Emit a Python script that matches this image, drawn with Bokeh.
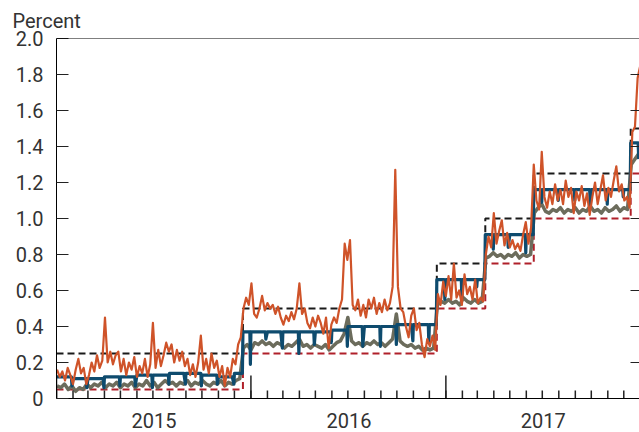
import pandas as pd
from bokeh.plotting import figure
from bokeh.models import (Range1d, FixedTicker, LinearAxis, Span,
                          PrintfTickFormatter, DatetimeTickFormatter)
from bokeh.embed import file_html
from bokeh.resources import INLINE

# ---------------- data ----------------
# administered rates (step changes)
rate_change_dates = ["2015-01-01", "2015-12-17", "2016-12-15", "2017-03-16",
                     "2017-06-15", "2017-12-14", "2018-01-01"]
ioer_rate = [0.25, 0.50, 0.75, 1.00, 1.25, 1.50, 1.50]
rrp_rate = [0.05, 0.25, 0.50, 0.75, 1.00, 1.25, 1.25]

# orange series, sampled every 5 days from 2015-01-02
orange_start, orange_freq = "2015-01-02", "5D"
orange_values = [
    0.16, 0.12, 0.15, 0.10, 0.17, 0.13, 0.08, 0.16, 0.22, 0.14,
    0.17, 0.08, 0.13, 0.20, 0.15, 0.24, 0.17, 0.21, 0.45, 0.20,
    0.26, 0.19, 0.24, 0.26, 0.15, 0.22, 0.13, 0.20, 0.16, 0.23,
    0.12, 0.18, 0.14, 0.22, 0.12, 0.19, 0.42, 0.17, 0.27, 0.18,
    0.24, 0.31, 0.26, 0.30, 0.20, 0.27, 0.21, 0.26, 0.18, 0.22,
    0.13, 0.19, 0.12, 0.20, 0.35, 0.16, 0.22, 0.14, 0.25, 0.17,
    0.21, 0.12, 0.18, 0.07, 0.17, 0.12, 0.22, 0.19, 0.30, 0.34,
    0.50, 0.56, 0.52, 0.64, 0.47, 0.45, 0.50, 0.57, 0.49, 0.53,
    0.50, 0.52, 0.47, 0.51, 0.45, 0.41, 0.46, 0.43, 0.48, 0.44,
    0.50, 0.64, 0.47, 0.50, 0.42, 0.39, 0.45, 0.40, 0.46, 0.42,
    0.36, 0.45, 0.28, 0.41, 0.45, 0.42, 0.50, 0.55, 0.86, 0.77,
    0.88, 0.52, 0.49, 0.55, 0.46, 0.52, 0.45, 0.55, 0.50, 0.56,
    0.47, 0.53, 0.48, 0.55, 0.49, 0.53, 0.62, 1.27, 0.62, 0.50,
    0.48, 0.40, 0.34, 0.46, 0.50, 0.38, 0.42, 0.30, 0.23, 0.33,
    0.29, 0.35, 0.27,
    0.58, 0.52, 0.65, 0.57, 0.68, 0.55, 0.75, 0.56, 0.60, 0.52,
    0.69, 0.58, 0.62, 0.55, 0.66, 0.53, 0.56, 0.54,
    0.80, 0.90, 0.84, 1.03, 0.86, 0.93, 0.99, 0.85, 0.92, 0.84,
    0.88, 0.83, 0.86, 0.82, 0.91, 0.98, 0.86, 0.95,
    1.30, 1.10, 1.05, 1.37, 1.12, 1.06, 1.15, 1.08, 1.19, 1.10,
    1.16, 1.08, 1.21, 1.12, 1.17, 1.03, 1.15, 1.10, 1.18, 1.07,
    1.14, 1.02, 1.12, 1.20, 1.08, 1.16, 1.24, 1.10, 1.17, 1.12,
    1.21, 1.29, 1.15, 1.19, 1.10, 1.12, 1.06,
    1.48, 1.51, 1.78, 1.85,
]

# gray series, sampled every 7 days from 2015-01-02
gray_start, gray_freq = "2015-01-02", "7D"
gray_values = [
    0.07, 0.06, 0.08, 0.05, 0.07, 0.04, 0.06, 0.05, 0.08, 0.06,
    0.08, 0.07, 0.09, 0.06, 0.08, 0.07, 0.09, 0.06, 0.08, 0.07,
    0.09, 0.06, 0.08, 0.07, 0.10, 0.07, 0.09, 0.06, 0.08, 0.10,
    0.08, 0.09, 0.07, 0.09, 0.08, 0.10, 0.07, 0.09, 0.08, 0.10,
    0.08, 0.07, 0.09, 0.08, 0.10, 0.07, 0.09, 0.08, 0.10, 0.11,
    0.28, 0.30, 0.27, 0.31, 0.30, 0.32, 0.30, 0.31, 0.29, 0.31,
    0.30, 0.28, 0.30, 0.29, 0.31, 0.33, 0.29, 0.30, 0.28, 0.30,
    0.29, 0.28, 0.30, 0.27, 0.29, 0.31, 0.32, 0.36, 0.45, 0.32,
    0.30, 0.31, 0.29, 0.31, 0.30, 0.32, 0.30, 0.31, 0.29, 0.31,
    0.33, 0.47, 0.32, 0.30, 0.29, 0.30, 0.28, 0.29, 0.27, 0.28,
    0.27, 0.28,
    0.52, 0.54, 0.53, 0.55, 0.53, 0.54, 0.52, 0.56, 0.54, 0.53,
    0.55, 0.53, 0.54,
    0.78, 0.79, 0.81, 0.79, 0.80, 0.78, 0.80, 0.79, 0.81, 0.78,
    0.80, 0.79, 0.80,
    1.03, 1.06, 1.08, 1.04, 1.03, 1.05, 1.04, 1.06, 1.03, 1.05,
    1.04, 1.06, 1.03, 1.05, 1.04, 1.07, 1.04, 1.05, 1.03, 1.06,
    1.04, 1.05, 1.07, 1.04, 1.06, 1.05,
    1.30, 1.33, 1.36,
]

# blue series: level for each month and the month-end dip
blue_month_start = "2015-01-01"
blue_level = [0.12, 0.11, 0.11, 0.12, 0.12, 0.13, 0.13, 0.14, 0.14, 0.13, 0.12, 0.37,
              0.37, 0.37, 0.37, 0.37, 0.37, 0.38, 0.40, 0.40, 0.40, 0.41, 0.41, 0.66,
              0.66, 0.66, 0.91, 0.91, 0.91, 1.16, 1.16, 1.16, 1.16, 1.16, 1.16, 1.42]
blue_dip = [0.07, 0.06, 0.06, 0.07, 0.07, 0.06, 0.08, 0.08, 0.07, 0.08, 0.08, 0.19,
            0.33, 0.28, 0.25, 0.30, 0.31, 0.29, 0.29, 0.29, 0.30, 0.32, 0.31, 0.55,
            0.56, 0.62, 0.83, 0.84, 0.81, 1.09, 1.10, 1.10, 1.07, 1.08, 1.12, 1.33]
blue_hike_dates = ["2015-12-17", "2016-12-15", "2017-03-16", "2017-06-15", "2017-12-14"]
blue_pre_hike = [0.14, 0.41, 0.66, 0.91, 1.16]

y_ticks = [0.0, 0.2, 0.4, 0.6, 0.8, 1.0, 1.2, 1.4, 1.6, 1.8, 2.0]
y_inner_ticks = [0.2, 0.4, 0.6, 0.8, 1.0, 1.2, 1.4, 1.6, 1.8]
year_label_dates = ["2015-07-03", "2016-07-03", "2017-07-03"]

# ---------------- build ----------------
def ms(t):
    return pd.Timestamp(t).timestamp() * 1000.0

orange_dates = pd.date_range(orange_start, periods=len(orange_values), freq=orange_freq)
gray_dates = pd.date_range(gray_start, periods=len(gray_values), freq=gray_freq)

months = pd.date_range(blue_month_start, periods=len(blue_level), freq="MS")
hikes = {pd.Timestamp(d).to_period("M"): (pd.Timestamp(d), v)
         for d, v in zip(blue_hike_dates, blue_pre_hike)}
blue_x, blue_y = [], []
for m, start in enumerate(months):
    per = start.to_period("M")
    last_bd = start + pd.offsets.BMonthEnd(0)
    if per in hikes:
        hd, pre = hikes[per]
        blue_x += [start, hd - pd.Timedelta(days=1), hd]
        blue_y += [pre, pre, blue_level[m]]
    else:
        blue_x.append(start)
        blue_y.append(blue_level[m])
    blue_x += [last_bd - pd.offsets.BDay(1), last_bd]
    blue_y += [blue_level[m], blue_dip[m]]

rate_dates = pd.to_datetime(rate_change_dates)

x0 = ms("2015-01-01")
x1 = ms("2017-12-30 12:00")

TXT = "#333333"
TICK = "#222222"
FONT = "Roboto"

p = figure(width=639, height=432, x_axis_type="datetime",
           x_range=Range1d(x0, x1), y_range=Range1d(0, 2.0),
           output_backend="svg", toolbar_location=None,
           min_border_left=56, min_border_right=0,
           min_border_top=38, min_border_bottom=34)
p.outline_line_color = None
p.xgrid.visible = False
p.ygrid.visible = False
p.background_fill_color = "white"
p.border_fill_color = "white"

# title
p.title.text = "Percent"
p.title.align = "left"
p.title.offset = -44
p.title.standoff = 12
p.title.text_font = FONT
p.title.text_font_size = "20px"
p.title.text_font_style = "normal"
p.title.text_color = TXT

# rates
p.step(rate_dates, ioer_rate, mode="after", line_color="#1a1a1a",
       line_width=2, line_dash="7 4")
p.step(rate_dates, rrp_rate, mode="after", line_color="#b0202a",
       line_width=2, line_dash="7 4")

# series
p.line(gray_dates, gray_values, line_color="#6c6c5c", line_width=3.5, line_join="round")
p.line(blue_x, blue_y, line_color="#0e4b6e", line_width=3.2, line_join="round")
p.line(orange_dates, orange_values, line_color="#cf5329", line_width=2.2, line_join="round")

# inward tick marks along the time axis: months (short) and years (long)
month_starts = pd.date_range("2015-01-01", "2017-12-01", freq="MS")
year_starts = pd.date_range("2015-01-01", "2017-01-01", freq="YS")
month_tick_len = 8 / 180.0
year_tick_len = 23 / 180.0
p.segment(x0=month_starts, y0=[0.0] * len(month_starts),
          x1=month_starts, y1=[month_tick_len] * len(month_starts),
          line_color=TICK, line_width=1.5)
p.segment(x0=year_starts, y0=[0.0] * len(year_starts),
          x1=year_starts, y1=[year_tick_len] * len(year_starts),
          line_color=TICK, line_width=1.5)

# x axis: year labels centred in each year
fmt = DatetimeTickFormatter(years="%Y", months="%Y", days="%Y", hours="%Y",
                            minutes="%Y", seconds="%Y", milliseconds="%Y",
                            microseconds="%Y", minsec="%Y", hourmin="%Y")
xax = p.xaxis[0]
xax.ticker = FixedTicker(ticks=[ms(t) for t in year_label_dates])
xax.formatter = fmt
xax.major_tick_in = 0
xax.major_tick_out = 0
xax.minor_tick_in = 0
xax.minor_tick_out = 0
xax.axis_line_color = "black"
xax.major_label_standoff = 14
xax.major_label_text_font = FONT
xax.major_label_text_font_size = "20px"
xax.major_label_text_color = TXT

# left y axis
yax = p.yaxis[0]
yax.ticker = FixedTicker(ticks=y_ticks)
yax.formatter = PrintfTickFormatter(format="%.1f")
yax.major_label_overrides = {0: "0"}
yax.major_tick_in = 12
yax.major_tick_out = 0
yax.minor_tick_in = 0
yax.minor_tick_out = 0
yax.major_tick_line_color = TICK
yax.axis_line_color = "black"
yax.major_label_standoff = 13
yax.major_label_text_font = FONT
yax.major_label_text_font_size = "20px"
yax.major_label_text_color = TXT

# right inward ticks (no labels)
rax = LinearAxis(ticker=FixedTicker(ticks=[], minor_ticks=y_inner_ticks),
                 major_tick_in=0, major_tick_out=0,
                 minor_tick_in=9, minor_tick_out=0, axis_line_color=None,
                 minor_tick_line_color=TICK, major_label_standoff=0)
p.add_layout(rax, "right")

# top border
p.add_layout(Span(location=2.0, dimension="width", line_color="black", line_width=1))

open("out.html", "w").write(file_html(p, INLINE))
